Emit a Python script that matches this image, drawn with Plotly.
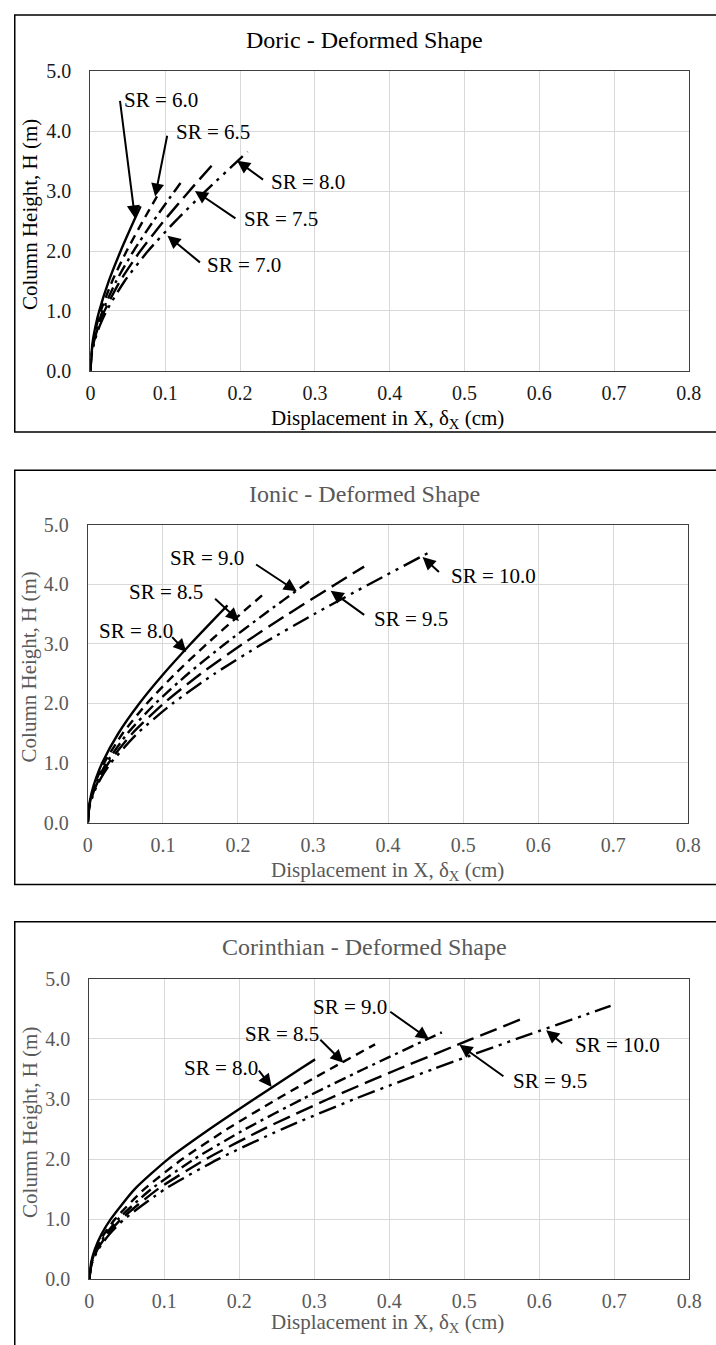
import plotly.graph_objects as go

FONT = "Times New Roman, Liberation Serif, DejaVu Serif, serif"

# ---------------- data ----------------
doric_sr = ["6.0", "6.5", "7.0", "7.5", "8.0"]
doric_height = [
    [0, 0.25, 0.5, 0.75, 1.0, 1.5, 2.0, 2.5, 2.75],
    [0, 0.25, 0.5, 0.75, 1.0, 1.5, 2.0, 2.5, 2.98],
    [0, 0.25, 0.5, 0.75, 1.0, 1.5, 2.0, 2.5, 3.0, 3.2],
    [0, 0.25, 0.5, 0.75, 1.0, 1.5, 2.0, 2.5, 3.0, 3.44],
    [0, 0.25, 0.5, 0.75, 1.0, 1.5, 2.0, 2.5, 3.0, 3.5, 3.66],
]
doric_disp = [
    [0, 0.0008, 0.0031, 0.0068, 0.0117, 0.0245, 0.0403, 0.0579, 0.067],
    [0, 0.0009, 0.0037, 0.0080, 0.0138, 0.0291, 0.0483, 0.0700, 0.092],
    [0, 0.0011, 0.0043, 0.0094, 0.0163, 0.0345, 0.0575, 0.0840, 0.1124, 0.124],
    [0, 0.0013, 0.0049, 0.0108, 0.0187, 0.0397, 0.0666, 0.0979, 0.1319, 0.163],
    [0, 0.0014, 0.0056, 0.0123, 0.0214, 0.0457, 0.0769, 0.1135, 0.1538, 0.1962, 0.210],
]

ionic_sr = ["8.0", "8.5", "9.0", "9.5", "10.0"]
ionic_height = [
    [0, 0.25, 0.5, 0.75, 1.0, 1.5, 2.0, 2.5, 3.0, 3.5, 3.65],
    [0, 0.25, 0.5, 0.75, 1.0, 1.5, 2.0, 2.5, 3.0, 3.5, 3.87],
    [0, 0.25, 0.5, 0.75, 1.0, 1.5, 2.0, 2.5, 3.0, 3.5, 4.0, 4.08],
    [0, 0.25, 0.5, 0.75, 1.0, 1.5, 2.0, 2.5, 3.0, 3.5, 4.0, 4.30],
    [0, 0.25, 0.5, 0.75, 1.0, 1.5, 2.0, 2.5, 3.0, 3.5, 4.0, 4.5, 4.56],
]
ionic_disp = [
    [0, 0.0013, 0.0050, 0.0110, 0.0190, 0.0407, 0.0685, 0.1010, 0.1368, 0.1745, 0.186],
    [0, 0.0015, 0.0057, 0.0125, 0.0217, 0.0465, 0.0786, 0.1164, 0.1584, 0.2031, 0.237],
    [0, 0.0016, 0.0064, 0.0142, 0.0247, 0.0530, 0.0899, 0.1335, 0.1825, 0.2349, 0.2892, 0.298],
    [0, 0.0018, 0.0072, 0.0158, 0.0275, 0.0594, 0.1009, 0.1504, 0.2062, 0.2665, 0.3295, 0.368],
    [0, 0.0020, 0.0080, 0.0176, 0.0306, 0.0662, 0.1129, 0.1688, 0.2322, 0.3012, 0.3741, 0.4489, 0.458],
]

corinth_sr = ["8.0", "8.5", "9.0", "9.5", "10.0"]
corinth_height = [
    [0, 0.25, 0.5, 0.75, 1.0, 1.5, 2.0, 2.5, 3.0, 3.5, 3.66],
    [0, 0.25, 0.5, 0.75, 1.0, 1.5, 2.0, 2.5, 3.0, 3.5, 3.91],
    [0, 0.25, 0.5, 0.75, 1.0, 1.5, 2.0, 2.5, 3.0, 3.5, 4.0, 4.11],
    [0, 0.25, 0.5, 0.75, 1.0, 1.5, 2.0, 2.5, 3.0, 3.5, 4.0, 4.36],
    [0, 0.25, 0.5, 0.75, 1.0, 1.5, 2.0, 2.5, 3.0, 3.5, 4.0, 4.5, 4.55],
]
corinth_disp = [
    [0, 0.0019, 0.0074, 0.0163, 0.0285, 0.0605, 0.1050, 0.1605, 0.2200, 0.2810, 0.301],
    [0, 0.0023, 0.0089, 0.0197, 0.0342, 0.0733, 0.1240, 0.1838, 0.2504, 0.3213, 0.381],
    [0, 0.0026, 0.0100, 0.0220, 0.0384, 0.0825, 0.1399, 0.2080, 0.2843, 0.3661, 0.4511, 0.470],
    [0, 0.0028, 0.0110, 0.0244, 0.0424, 0.0914, 0.1556, 0.2322, 0.3186, 0.4121, 0.5101, 0.582],
    [0, 0.0031, 0.0121, 0.0268, 0.0467, 0.1008, 0.1719, 0.2572, 0.3536, 0.4587, 0.5696, 0.6835, 0.695],
]

x_ticks = [0, 0.1, 0.2, 0.3, 0.4, 0.5, 0.6, 0.7, 0.8]
x_tick_text = ["0", "0.1", "0.2", "0.3", "0.4", "0.5", "0.6", "0.7", "0.8"]
y_ticks = [0, 1, 2, 3, 4, 5]
y_tick_text = ["0.0", "1.0", "2.0", "3.0", "4.0", "5.0"]

titles = ["Doric - Deformed Shape", "Ionic - Deformed Shape", "Corinthian - Deformed Shape"]

# label annotations: (sr, text x, text y, tail x, tail y, tip x, tip y)
doric_labels = [
    ("6.0", 0.0422, 4.525, 0.0392, 4.536, 0.0595, 2.546),
    ("6.5", 0.1123, 3.99, 0.1029, 3.951, 0.0864, 2.91),
    ("8.0", 0.2392, 3.16, 0.2327, 3.175, 0.196, 3.51),
    ("7.5", 0.2023, 2.53, 0.1958, 2.53, 0.1396, 3.005),
    ("7.0", 0.1526, 1.766, 0.1483, 1.79, 0.1029, 2.257),
]
ionic_labels = [
    ("9.0", 0.1069, 4.446, 0.2221, 4.352, 0.2783, 3.884),
    ("8.5", 0.0519, 3.873, 0.1675, 3.785, 0.2013, 3.388),
    ("8.0", 0.0117, 3.223, 0.1104, 3.14, 0.1312, 2.865),
    ("9.5", 0.3779, 3.416, 0.3701, 3.471, 0.3234, 3.896),
    ("10.0", 0.4805, 4.149, 0.4697, 4.187, 0.4459, 4.463),
]
corinth_labels = [
    ("9.0", 0.2958, 4.524, 0.3993, 4.47, 0.4529, 3.995),
    ("8.5", 0.2044, 4.076, 0.306, 4.011, 0.3387, 3.605),
    ("8.0", 0.1242, 3.514, 0.2245, 3.497, 0.2431, 3.2),
    ("9.5", 0.5625, 3.308, 0.5541, 3.362, 0.4935, 3.903),
    ("10.0", 0.6455, 3.903, 0.6324, 3.903, 0.6091, 4.146),
]

# ---------------- layout geometry (pixels) ----------------
W, H = 716, 1345
panels = [
    dict(x0=87.7, x1=701.5, yb=365.7, yt=61.5, bt=4, bb=428, ty=29, yty=207, xty=415, col="#000000", tcol="#1a1a1a"),
    dict(x0=85.0, x1=701.0, yb=825.0, yt=522.5, bt=467, bb=888, ty=491, yty=667, xty=874, col="#595959", tcol="#595959"),
    dict(x0=86.5, x1=702.0, yb=1289.3, yt=984.0, bt=926, bb=1400, ty=952, yty=1130, xty=1334, col="#595959", tcol="#595959"),
]
styles = ["solid", "9px,6px", "12px,5px,3px,5px", "18px,7px", "18px,6px,3px,6px,3px,6px"]

fig = go.Figure()
all_h = [doric_height, ionic_height, corinth_height]
all_d = [doric_disp, ionic_disp, corinth_disp]
all_sr = [doric_sr, ionic_sr, corinth_sr]
all_labels = [doric_labels, ionic_labels, corinth_labels]

layout = dict(
    width=W, height=H, margin=dict(l=0, r=0, t=0, b=0),
    paper_bgcolor="white", plot_bgcolor="white", showlegend=False,
    font=dict(family=FONT, color="#000000"),
)
annotations = []
shapes = []

for i, p in enumerate(panels):
    sfx = "" if i == 0 else str(i + 1)
    xa, ya = "x" + sfx, "y" + sfx
    for k in range(5):
        fig.add_trace(go.Scatter(
            x=all_d[i][k], y=all_h[i][k], mode="lines", name="SR = " + all_sr[i][k],
            line=dict(color="black", width=2.4, dash=styles[k], shape="spline", smoothing=0.6),
            xaxis=xa, yaxis=ya, hoverinfo="skip",
        ))
    common = dict(showgrid=True, gridcolor="#d9d9d9", gridwidth=1, showline=True,
                  linecolor="#404040", linewidth=1.3, mirror=True, zeroline=False,
                  ticks="", tickfont=dict(family=FONT, size=20, color=p["tcol"]),
                  fixedrange=True)
    layout["xaxis" + sfx] = dict(common, domain=[p["x0"] / W, p["x1"] / W], range=[0, 0.8],
                                  tickvals=x_ticks, ticktext=x_tick_text, anchor=ya,
                                  ticklabelstandoff=4)
    layout["yaxis" + sfx] = dict(common, domain=[1 - p["yb"] / H, 1 - p["yt"] / H], range=[0, 5],
                                  tickvals=y_ticks, ticktext=y_tick_text, anchor=xa,
                                  ticklabelstandoff=14)
    shapes.append(dict(type="rect", xref="paper", yref="paper", x0=10 / W, x1=1.05,
                       y0=1 - p["bb"] / H, y1=1 - p["bt"] / H,
                       line=dict(color="#000000", width=1.5), fillcolor="rgba(0,0,0,0)", layer="below"))
    annotations.append(dict(xref="paper", yref="paper", x=369 / W, y=1 - p["ty"] / H,
                            text=titles[i], showarrow=False, xanchor="center", yanchor="middle",
                            font=dict(family=FONT, size=24, color=p["col"])))
    annotations.append(dict(xref="paper", yref="paper", x=25 / W, y=1 - p["yty"] / H,
                            text="Column Height, H (m)", showarrow=False, textangle=-90,
                            xanchor="center", yanchor="middle",
                            font=dict(family=FONT, size=21, color=p["col"])))
    annotations.append(dict(xref="paper", yref="paper", x=392 / W, y=1 - p["xty"] / H,
                            text="Displacement in X, δ<sub>X</sub> (cm)", showarrow=False,
                            xanchor="center", yanchor="middle",
                            font=dict(family=FONT, size=21, color=p["col"])))
    for (sr, tx, ty, ax_, ay_, hx, hy) in all_labels[i]:
        annotations.append(dict(xref=xa, yref=ya, x=tx, y=ty, text="SR = " + sr, showarrow=False,
                                xanchor="left", yanchor="middle",
                                font=dict(family=FONT, size=21, color="black")))
        annotations.append(dict(xref=xa, yref=ya, x=hx, y=hy, axref=xa, ayref=ya, ax=ax_, ay=ay_,
                                text="", showarrow=True, arrowhead=2, arrowsize=1.3,
                                arrowwidth=2, arrowcolor="black"))

layout["annotations"] = annotations
layout["shapes"] = shapes
fig.update_layout(**layout)
fig.write_html("out.html",
               post_script="document.body.style.margin='0';document.body.style.overflow='hidden';")
